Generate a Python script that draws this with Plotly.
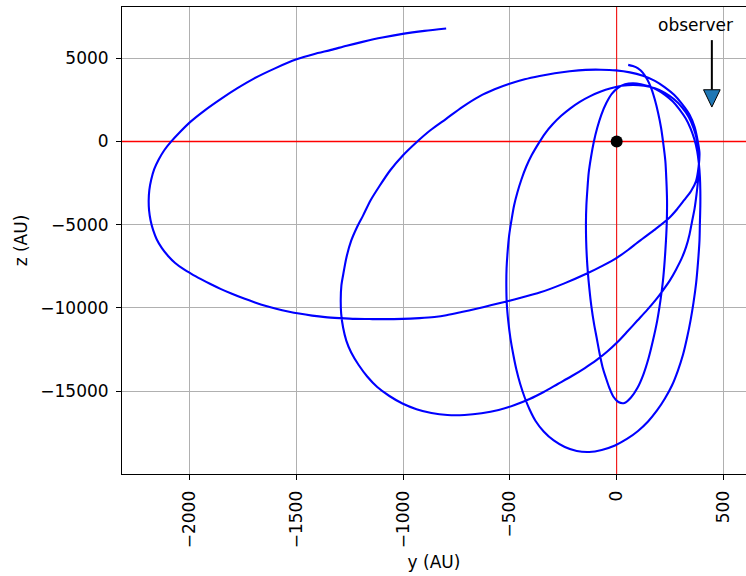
import plotly.graph_objects as go

# Projected orbit in the y-z plane (AU), in time order:
# innermost loop first, then three progressively precessed loops.
y_au = [54, 76, 100, 123, 144, 163, 179, 194, 208, 218, 228, 233, 236, 235, 231, 225, 217,
        205, 190, 170, 149, 125, 97, 67, 36, 8, -16, -34, -51, -66, -81, -94, -106, -119,
        -128, -135, -140, -143, -144, -142, -137, -131, -120, -107, -91, -72, -48, -23, 6,
        39, 76, 114, 151, 189, 226, 262, 294, 323, 346, 364, 377, 385, 390, 392, 392, 390,
        388, 381, 372, 360, 346, 330, 311, 287, 259, 226, 189, 147, 100, 48, -8, -70, -129,
        -187, -243, -295, -342, -380, -408, -431, -452, -470, -485, -498, -508, -515, -517,
        -516, -511, -504, -493, -481, -465, -446, -424, -398, -368, -335, -300, -260, -217,
        -173, -126, -77, -27, 24, 76, 128, 179, 226, 269, 306, 337, 360, 376, 384, 385, 381,
        374, 365, 353, 341, 325, 304, 278, 250, 217, 182, 142, 97, 50, 4, -44, -95, -149,
        -210, -276, -342, -408, -478, -553, -633, -713, -793, -868, -938, -1004, -1065,
        -1122, -1169, -1209, -1244, -1267, -1282, -1291, -1293, -1290, -1281, -1266, -1244,
        -1218, -1188, -1153, -1112, -1061, -1003, -938, -873, -799, -722, -643, -572, -502,
        -431, -361, -290, -220, -145, -74, -4, 62, 123, 179, 226, 269, 306, 341, 365, 380,
        388, 384, 372, 348, 316, 283, 247, 175, 100, 53, 4, -65, -137, -248, -361, -445,
        -516, -586, -657, -727, -798, -854, -924, -1004, -1065, -1145, -1225, -1300, -1366,
        -1427, -1488, -1540, -1591, -1643, -1695, -1746, -1803, -1854, -1906, -1948, -1991,
        -2031, -2069, -2102, -2131, -2155, -2172, -2184, -2191, -2193, -2190, -2181, -2167,
        -2146, -2120, -2089, -2045, -1999, -1930, -1854, -1777, -1698, -1601, -1500, -1420,
        -1338, -1265, -1191, -1098, -1003, -901, -799]
z_au = [4600, 4530, 4390, 4120, 3700, 3160, 2500, 1720, 820, -80, -1160, -2360, -3560,
        -4760, -5960, -7160, -8360, -9560, -10760, -11960, -13040, -14000, -14810, -15380,
        -15710, -15650, -15320, -14810, -14180, -13560, -12680, -11780, -10960, -9860, -8840,
        -7880, -6920, -5960, -4880, -3860, -2840, -1880, -920, -20, 820, 1600, 2320, 2860,
        3220, 3430, 3490, 3440, 3310, 3100, 2800, 2410, 1930, 1390, 790, 130, -560, -1310,
        -2120, -2960, -3860, -4880, -5960, -7280, -8540, -9680, -10760, -11780, -12800,
        -13760, -14660, -15440, -16160, -16820, -17390, -17870, -18260, -18530, -18650,
        -18590, -18350, -17960, -17420, -16790, -16100, -15380, -14570, -13700, -12770,
        -11810, -10790, -9740, -8690, -7640, -6620, -5660, -4730, -3860, -3050, -2270, -1520,
        -820, -160, 490, 1030, 1540, 1990, 2380, 2710, 2980, 3190, 3340, 3400, 3350, 3190,
        2920, 2530, 2050, 1480, 820, 100, -680, -1520, -2360, -3200, -4040, -4820, -5600,
        -6350, -7040, -7700, -8330, -8940, -9530, -10130, -10760, -11420, -12050, -12620,
        -13140, -13610, -14090, -14570, -15050, -15470, -15830, -16130, -16330, -16430,
        -16430, -16310, -16080, -15740, -15290, -14750, -14120, -13430, -12680, -11960,
        -11180, -10340, -9500, -8660, -7960, -6950, -5960, -5180, -4440, -3530, -2690, -1730,
        -860, -50, 670, 1360, 2080, 2710, 3130, 3460, 3730, 3930, 4100, 4220, 4300, 4310,
        4270, 4150, 3940, 3640, 3250, 2800, 2260, 1620, 880, 20, -680, -1520, -2380, -2990,
        -3530, -4070, -4580, -5330, -6050, -6520, -6960, -7460, -7920, -8540, -9080, -9370,
        -9610, -9830, -10050, -10250, -10440, -10540, -10610, -10660, -10670, -10670, -10660,
        -10610, -10550, -10460, -10340, -10210, -10060, -9880, -9670, -9440, -9150, -8870,
        -8550, -8270, -7970, -7660, -7300, -6880, -6410, -5890, -5330, -4750, -4160, -3560,
        -2920, -2290, -1670, -1090, -530, -30, 580, 1160, 1870, 2560, 3200, 3790, 4390, 4930,
        5240, 5500, 5750, 5980, 6240, 6460, 6640, 6780]

# Central body
center_y = [0]
center_z = [0]

# Axis limits
y_range = [-2318, 606]
z_range = [-19975, 8075]

# Observer direction marker
observer_label = "observer"
observer_y = 446
observer_text_y = 367
observer_text_z = 7000
arrow_top_z = 6085
arrow_tip_z = 2065
head_len_z = 1040
head_half_y = 39

x_ticks = [-2000, -1500, -1000, -500, 0, 500]
x_ticklabels = ["\u22122000", "\u22121500", "\u22121000", "\u2212500", "0", "500"]
z_ticks = [-20000, -15000, -10000, -5000, 0, 5000]
z_ticklabels = ["\u221220000", "\u221215000", "\u221210000", "\u22125000", "0", "5000"]

FONT = "DejaVu Sans"
FS = 17
GRID = "#b0b0b0"

fig = go.Figure()

# Red reference lines through the origin (drawn under the orbit)
fig.add_trace(go.Scatter(
    x=y_range, y=[0, 0], mode="lines", line=dict(color="#ff0000", width=1.6),
    hoverinfo="skip", showlegend=False,
))
fig.add_trace(go.Scatter(
    x=[0, 0], y=z_range, mode="lines", line=dict(color="#ff0000", width=1),
    hoverinfo="skip", showlegend=False,
))

fig.add_trace(go.Scatter(
    x=y_au, y=z_au, mode="lines",
    line=dict(color="#0000ff", width=2.1, shape="spline", smoothing=0.8),
    hoverinfo="skip", showlegend=False,
))

fig.add_trace(go.Scatter(
    x=center_y, y=center_z, mode="markers",
    marker=dict(color="black", size=12),
    hoverinfo="skip", showlegend=False,
))

# Arrow shaft and head
head_base = arrow_tip_z + head_len_z
fig.add_shape(type="line", xref="x", yref="y",
              x0=observer_y, x1=observer_y, y0=arrow_top_z, y1=head_base,
              line=dict(color="black", width=2))
fig.add_shape(type="path", xref="x", yref="y",
              path=(f"M {observer_y - head_half_y} {head_base} "
                    f"L {observer_y + head_half_y} {head_base} "
                    f"L {observer_y} {arrow_tip_z} Z"),
              fillcolor="#1f77b4", line=dict(color="black", width=1))

fig.add_annotation(x=observer_text_y, y=observer_text_z, xref="x", yref="y",
                   text=observer_label, showarrow=False,
                   font=dict(family=FONT, size=FS, color="black"))

axis_common = dict(
    zeroline=False, showgrid=True, gridcolor=GRID, gridwidth=1,
    showline=True, linecolor="black", linewidth=1,
    ticks="outside", ticklen=5, tickwidth=1, tickcolor="black",
    tickfont=dict(family=FONT, size=FS, color="black"),
)

fig.update_xaxes(
    range=y_range, tickmode="array", tickvals=x_ticks, ticktext=x_ticklabels,
    tickangle=-90, mirror=True, ticklabelstandoff=4,
    title=dict(text="y (AU)", font=dict(family=FONT, size=FS, color="black"), standoff=8),
    **axis_common,
)
fig.update_yaxes(
    range=z_range, tickmode="array", tickvals=z_ticks, ticktext=z_ticklabels,
    ticklabelstandoff=4,
    title=dict(text="z (AU)", font=dict(family=FONT, size=FS, color="black"), standoff=8),
    **axis_common,
)

fig.update_layout(
    width=746, height=576,
    margin=dict(l=122, r=0, t=7, b=102, autoexpand=False),
    plot_bgcolor="white", paper_bgcolor="white",
    font=dict(family=FONT, size=FS, color="black"),
)

fig.write_html("out.html")
